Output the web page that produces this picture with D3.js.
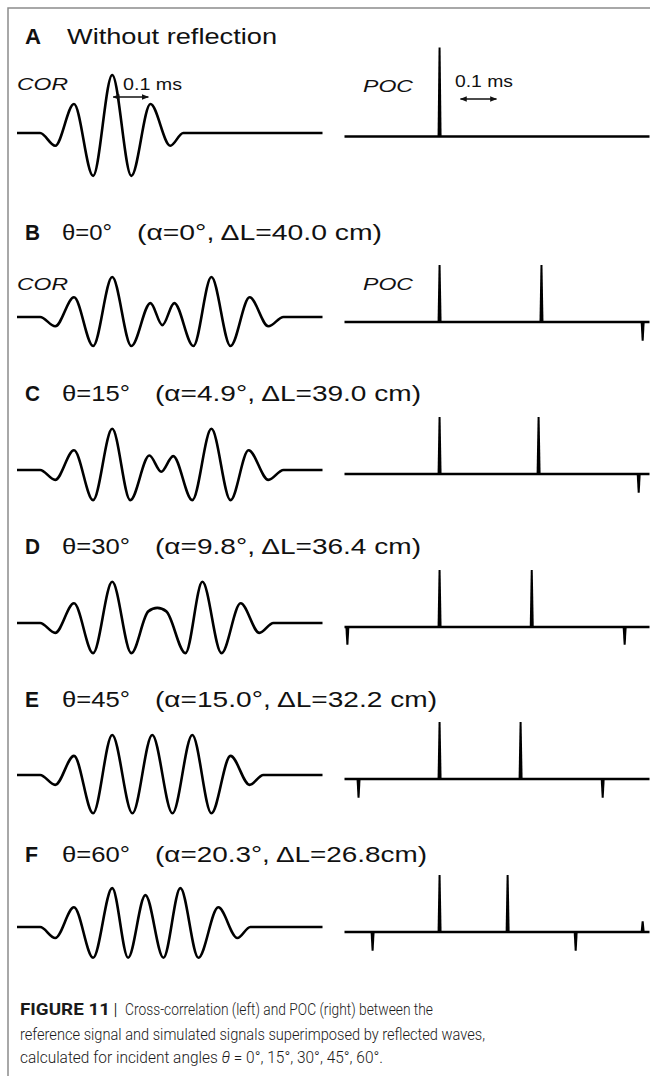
<!DOCTYPE html>
<html>
<head>
<meta charset="utf-8">
<script src="https://cdn.jsdelivr.net/npm/d3@7"></script>
<style>
  body { margin: 0; background: #fff; }
  svg { display: block; }
</style>
</head>
<body>
<div id="chart"></div>
<script>
// lag axis in microseconds (0.1 ms = 100), shared by COR and POC traces
const lagDomain = [-264, 583];
const scaleBarLen = 100;

const panelLetters = ["A", "B", "C", "D", "E", "F"];
const thetaLabels = ["", "θ=0°", "θ=15°", "θ=30°", "θ=45°", "θ=60°"];
const detailLabels = [
  "Without reflection",
  "(α=0°, ΔL=40.0 cm)",
  "(α=4.9°, ΔL=39.0 cm)",
  "(α=9.8°, ΔL=36.4 cm)",
  "(α=15.0°, ΔL=32.2 cm)",
  "(α=20.3°, ΔL=26.8cm)",
];

// cross-correlation turning points [lag, amplitude]
const corA = [[-264, 0], [-200, 0], [-158, -0.22], [-106, 0.5], [-53, -0.74], [0, 1], [53, -0.74], [106, 0.5], [161, -0.22], [197, 0], [583, 0]];
const corB = [[-264, 0], [-200, 0], [-158, -0.16], [-106, 0.34], [-53, -0.5], [0, 0.69], [53, -0.5], [106, 0.24], [139, -0.14], [172, 0.24], [225, -0.5], [275, 0.69], [328, -0.5], [381, 0.34], [433, -0.16], [475, 0], [583, 0]];
const corC = [[-264, 0], [-200, 0], [-158, -0.17], [-106, 0.34], [-53, -0.52], [0, 0.71], [50, -0.52], [103, 0.25], [136, -0.03], [169, 0.24], [222, -0.52], [275, 0.71], [328, -0.52], [378, 0.34], [433, -0.17], [475, 0], [583, 0]];
const corD = [[-264, 0], [-200, 0], [-158, -0.17], [-106, 0.34], [-53, -0.52], [0, 0.71], [53, -0.52], [100, 0.2], [125, 0.26], [150, 0.2], [203, -0.52], [250, 0.71], [303, -0.52], [356, 0.34], [408, -0.17], [447, 0], [583, 0]];
const corE = [[-264, 0], [-200, 0], [-158, -0.17], [-106, 0.33], [-53, -0.66], [0, 0.69], [56, -0.66], [111, 0.69], [167, -0.66], [222, 0.69], [275, -0.66], [328, 0.33], [381, -0.17], [419, 0], [583, 0]];
const corF = [[-264, 0], [-200, 0], [-158, -0.19], [-106, 0.34], [-53, -0.53], [0, 0.67], [44, -0.53], [92, 0.55], [142, -0.53], [189, 0.67], [239, -0.53], [294, 0.34], [347, -0.19], [383, 0], [583, 0]];

// POC spikes [lag, amplitude]
const pocA = [[0, 1]];
const pocB = [[0, 0.64], [283, 0.64], [564, -0.21]];
const pocC = [[0, 0.64], [275, 0.64], [553, -0.21]];
const pocD = [[-256, -0.2], [0, 0.64], [256, 0.64], [514, -0.2]];
const pocE = [[-225, -0.21], [0, 0.64], [225, 0.64], [453, -0.21]];
const pocF = [[-186, -0.21], [0, 0.64], [189, 0.64], [378, -0.21], [564, 0.12]];

const corSeries = [corA, corB, corC, corD, corE, corF];
const pocSeries = [pocA, pocB, pocC, pocD, pocE, pocF];

const width = 650, height = 1076;
const font = "'Liberation Sans', Arial, Helvetica, sans-serif";
const capFont = "Roboto, 'Liberation Sans', Arial, sans-serif";

// per-row layout (pixels)
const rows = [
  { titleY: 44, corY: 133, pocY: 136.5, letterW: 16, thetaW: 0, detailX: 67, detailW: 210 },
  { titleY: 240, corY: 317, pocY: 322, letterW: 15, thetaW: 50, detailX: 137, detailW: 245 },
  { titleY: 401, corY: 470, pocY: 474, letterW: 15, thetaW: 68, detailX: 155, detailW: 266 },
  { titleY: 554, corY: 623, pocY: 627, letterW: 15, thetaW: 68, detailX: 155, detailW: 266 },
  { titleY: 707, corY: 775, pocY: 779, letterW: 14, thetaW: 68, detailX: 155, detailW: 282 },
  { titleY: 862, corY: 927, pocY: 932, letterW: 13, thetaW: 68, detailX: 155, detailW: 272 },
];

const svg = d3.select("#chart").append("svg")
  .attr("width", width)
  .attr("height", height);

svg.append("rect").attr("width", width).attr("height", height).attr("fill", "#fff");

// frame
svg.append("path")
  .attr("d", `M8,${height} L8,8 L${width},8`)
  .attr("fill", "none")
  .attr("stroke", "#8c8c8c")
  .attr("stroke-width", 1.5);

const defs = svg.append("defs");
defs.append("marker")
  .attr("id", "head")
  .attr("viewBox", "0 0 10 10")
  .attr("refX", 9).attr("refY", 5)
  .attr("markerWidth", 7).attr("markerHeight", 7)
  .attr("markerUnits", "userSpaceOnUse")
  .attr("orient", "auto-start-reverse")
  .append("path")
  .attr("d", "M0,1 L10,5 L0,9 Z")
  .attr("fill", "#111");

const xCor = d3.scaleLinear().domain(lagDomain).range([17, 322.5]);
const xPoc = d3.scaleLinear().domain(lagDomain).range([344.5, 649.5]);
const yCorAmp = d3.scaleLinear().domain([-1, 1]).range([58, -58]);
const yPocAmp = d3.scaleLinear().domain([-1, 1]).range([89, -89]);

function addText(g, x, y, str, opts = {}) {
  const t = g.append("text")
    .attr("x", x)
    .attr("y", y)
    .attr("font-family", opts.family || font)
    .attr("font-size", opts.size || 22)
    .attr("font-weight", opts.weight || 400)
    .attr("font-style", opts.style || "normal")
    .attr("fill", opts.fill || "#111")
    .text(str);
  if (opts.w) t.attr("textLength", opts.w).attr("lengthAdjust", "spacingAndGlyphs");
  return t;
}

rows.forEach((row, i) => {
  const g = svg.append("g").attr("class", `panel-${panelLetters[i]}`);

  addText(g, 25, row.titleY, panelLetters[i], { weight: 700, w: row.letterW });
  if (thetaLabels[i]) addText(g, 62, row.titleY, thetaLabels[i], { w: row.thetaW });
  addText(g, row.detailX, row.titleY, detailLabels[i], { w: row.detailW });

  // COR trace
  const line = d3.line()
    .x((d) => xCor(d[0]))
    .y((d) => row.corY + yCorAmp(d[1]))
    .curve(d3.curveMonotoneX);
  g.append("path")
    .datum(corSeries[i])
    .attr("d", line)
    .attr("fill", "none")
    .attr("stroke", "#000")
    .attr("stroke-width", 2.6)
    .attr("stroke-linejoin", "round");

  // POC baseline + spikes
  g.append("line")
    .attr("x1", xPoc(lagDomain[0]))
    .attr("x2", xPoc(lagDomain[1]))
    .attr("y1", row.pocY)
    .attr("y2", row.pocY)
    .attr("stroke", "#000")
    .attr("stroke-width", 2.6);
  g.selectAll(".spike")
    .data(pocSeries[i])
    .join("path")
    .attr("class", "spike")
    .attr("d", (d) => {
      const x = xPoc(d[0]);
      const tip = row.pocY + yPocAmp(d[1]);
      return `M${x - 2},${row.pocY} L${x - 1},${tip} L${x + 1},${tip} L${x + 2},${row.pocY} Z`;
    })
    .attr("fill", "#000");
});

// labels and 0.1 ms scale bars for the first two rows
const annot = svg.append("g").attr("class", "annotations");
addText(annot, 17, 90, "COR", { size: 17, style: "italic", w: 51 });
addText(annot, 363, 92, "POC", { size: 17, style: "italic", w: 50 });
addText(annot, 17, 290, "COR", { size: 17, style: "italic", w: 51 });
addText(annot, 363, 290, "POC", { size: 17, style: "italic", w: 50 });
addText(annot, 123, 90, "0.1 ms", { size: 16, w: 59 });
addText(annot, 455, 87, "0.1 ms", { size: 16, w: 58 });

annot.append("line")
  .attr("x1", xCor(0) + 1).attr("x2", xCor(scaleBarLen))
  .attr("y1", 97).attr("y2", 97)
  .attr("stroke", "#111").attr("stroke-width", 1.3)
  .attr("marker-start", "url(#head)")
  .attr("marker-end", "url(#head)");
annot.append("line")
  .attr("x1", xPoc(58)).attr("x2", xPoc(58 + scaleBarLen))
  .attr("y1", 99).attr("y2", 99)
  .attr("stroke", "#111").attr("stroke-width", 1.3)
  .attr("marker-start", "url(#head)")
  .attr("marker-end", "url(#head)");

// caption
const cap = svg.append("g").attr("class", "caption");
const capOpts = { family: capFont, size: 16.5, weight: 300, fill: "#1a1a1a" };
addText(cap, 20, 1015, "FIGURE 11", { ...capOpts, weight: 700, w: 90 });
addText(cap, 114, 1015, "|", { ...capOpts, weight: 700, w: 3 });
addText(cap, 125, 1015, "Cross-correlation (left) and POC (right) between the", { ...capOpts, w: 308 });
addText(cap, 20, 1040, "reference signal and simulated signals superimposed by reflected waves,", { ...capOpts, w: 465 });

const last = addText(cap, 20, 1063, "", { ...capOpts, w: 363 })
  .attr("xml:space", "preserve")
  .style("white-space", "pre");
last.append("tspan").text("calculated for incident angles ");
last.append("tspan").attr("font-style", "italic").text("θ ");
last.append("tspan").text("= 0°, 15°, 30°, 45°, 60°.");
</script>
</body>
</html>
